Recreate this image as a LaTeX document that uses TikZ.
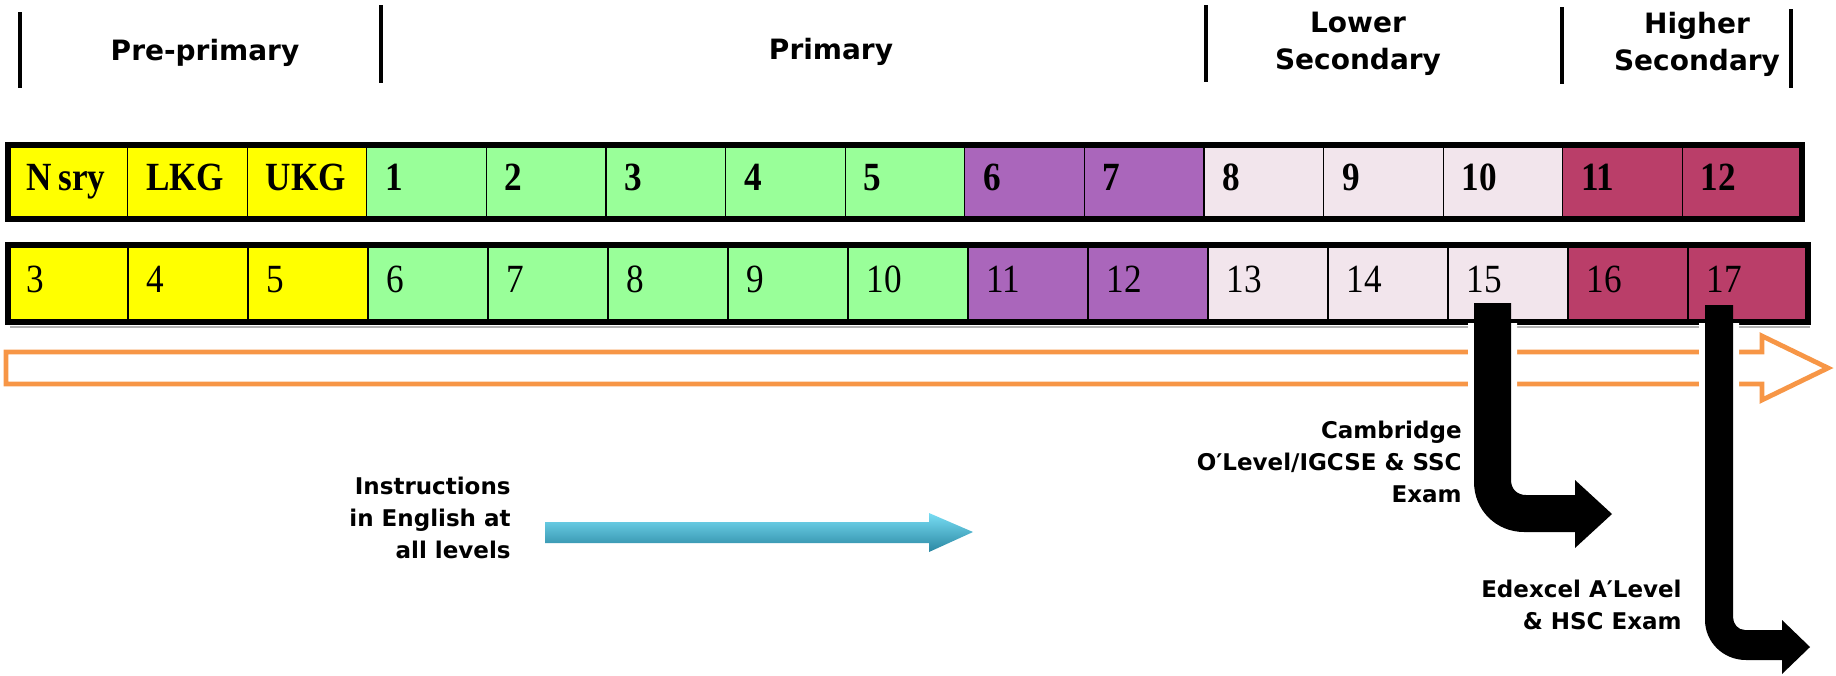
\documentclass[tikz,border=0pt]{standalone}
\usepackage{fontspec}
\setmainfont{DejaVu Sans}
\newfontfamily\cellfont{Liberation Serif}[FakeStretch=0.88]
\definecolor{kgyellow}{HTML}{FFFF00}
\definecolor{primgreen}{HTML}{99FF99}
\definecolor{midpurple}{HTML}{AA66BB}
\definecolor{lowpink}{HTML}{F2E5EC}
\definecolor{highred}{HTML}{BA3E69}
\definecolor{flowline}{HTML}{F79646}
\definecolor{aquatop}{HTML}{78DDF4}
\definecolor{aquamid}{HTML}{40B2CE}
\definecolor{aquabot}{HTML}{2A87A2}
\tikzset{
  stagebar/.style={line width=1.7pt},
  stagelabel/.style={font=\bfseries\fontsize{14}{18.5}\selectfont, align=center, inner sep=0pt},
  gradecell/.style={draw=black, line width=0.6pt},
  rowframe/.style={draw=black, line width=3pt},
  gradetext/.style={font=\cellfont\bfseries\fontsize{20}{22}\selectfont, anchor=base west, inner sep=0pt},
  agetext/.style={font=\cellfont\fontsize{20}{22}\selectfont, anchor=base west, inner sep=0pt},
  examlabel/.style={font=\bfseries\fontsize{11.5}{16}\selectfont, align=right, anchor=east, inner sep=0pt},
  halo/.style={draw=white, line width=6pt},
}
\newcommand{\cambridgepath}{(1474,303) -- (1511,303) -- (1511,480) .. controls (1511,489) and (1517,495) .. (1526,495) -- (1575,495) -- (1575,480) -- (1612,514) -- (1575,548) -- (1575,532) -- (1524,532) .. controls (1496,532) and (1474,510) .. (1474,482) -- cycle}
\newcommand{\edexcelpath}{(1705,305) -- (1733,305) -- (1733,617) .. controls (1733,624) and (1738,630) .. (1745,630) -- (1782,630) -- (1782,620) -- (1810,647) -- (1782,674) -- (1782,660) -- (1746,660) .. controls (1723,660) and (1705,642) .. (1705,620) -- cycle}
\begin{document}
\begin{tikzpicture}[x=0.5pt,y=-0.5pt]
  \useasboundingbox (0,0) rectangle (1836,675);
  \draw[stagebar] (20,12) -- (20,88);
  \draw[stagebar] (381,5) -- (381,83);
  \draw[stagebar] (1206,5) -- (1206,82);
  \draw[stagebar] (1562,7) -- (1562,84);
  \draw[stagebar] (1791,9) -- (1791,88);
  \node[stagelabel] (preprim) at (205,53) {Pre-primary};
  \node[stagelabel] (prim) at (831,52) {Primary};
  \node[stagelabel] (lowsec) at (1358,44) {Lower\\Secondary};
  \node[stagelabel] (highsec) at (1697,44) {Higher\\Secondary};
  \foreach \g/\a/\c [count=\i from 0] in {{N\,sry}/3/kgyellow, LKG/4/kgyellow, UKG/5/kgyellow,
      1/6/primgreen, 2/7/primgreen, 3/8/primgreen, 4/9/primgreen, 5/10/primgreen,
      6/11/midpurple, 7/12/midpurple, 8/13/lowpink, 9/14/lowpink, 10/15/lowpink,
      11/16/highred, 12/17/highred} {
    \filldraw[gradecell, fill=\c] (8+119.6*\i,145) rectangle (127.6+119.6*\i,219);
    \node[gradetext] (grade\i) at (26+119.6*\i,190) {\g};
    \filldraw[gradecell, fill=\c] (8+120*\i,245) rectangle (128+120*\i,322);
    \node[agetext] (age\i) at (26+120*\i,292) {\a};
  }
  \draw[rowframe] (8,145) rectangle (1802,219);
  \draw[gray!60, line width=1.2pt] (10,327) -- (1810,327);
  \draw[rowframe] (8,245) rectangle (1808,322);
  \draw[flowline, line width=2.4pt, line join=miter] (6,352) -- (1762,352) -- (1762,336) -- (1828,368) -- (1762,400) -- (1762,384) -- (6,384) -- cycle;
  \shade[top color=aquatop, middle color=aquamid, bottom color=aquabot] (545,522) -- (929,522) -- (929,513) -- (973,532) -- (929,552) -- (929,543) -- (545,543) -- cycle;
  \node[examlabel] (instr) at (511,518) {Instructions\\in English at\\all levels};
  \node[examlabel] (cambexam) at (1462,462) {Cambridge\\O′Level/IGCSE \& SSC\\Exam};
  \node[examlabel] (edexam) at (1682,605) {Edexcel A′Level\\\& HSC Exam};
  \begin{scope}
    \clip (0,323) rectangle (1836,675);
    \draw[halo] \cambridgepath;
    \draw[halo] \edexcelpath;
  \end{scope}
  \fill[black] \cambridgepath;
  \fill[black] \edexcelpath;
\end{tikzpicture}
\end{document}
